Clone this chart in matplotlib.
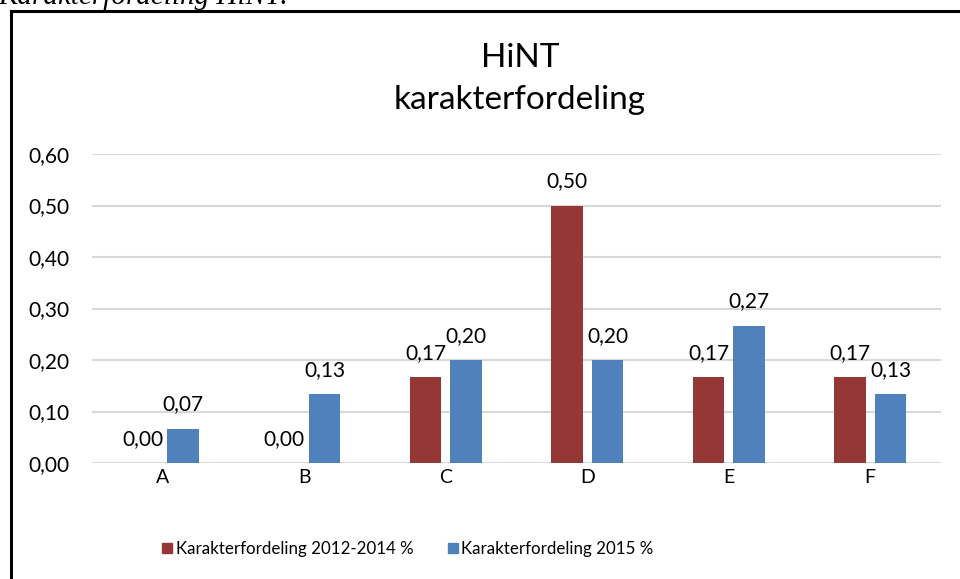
import numpy as np
import matplotlib
matplotlib.use("Agg")
import matplotlib.pyplot as plt
from matplotlib.lines import Line2D

# Data
categories = ["A", "B", "C", "D", "E", "F"]
series_names = ["Karakterfordeling 2012-2014 %", "Karakterfordeling 2015 %"]
vals_2012_2014 = [0.0, 0.0, 0.1667, 0.5, 0.1667, 0.1667]
vals_2015 = [0.0667, 0.1333, 0.2, 0.2, 0.2667, 0.1333]
y_ticks = [0.0, 0.1, 0.2, 0.3, 0.4, 0.5, 0.6]

RED = "#953735"
BLUE = "#4F81BD"
GRID = "#D9D9D9"

plt.rcParams["font.family"] = ["Lato", "DejaVu Sans"]

W, H = 960, 579
fig = plt.figure(figsize=(W / 100, H / 100), dpi=100)
fig.patch.set_facecolor("white")

# Axes placed in pixel coordinates
left, right, top, bottom = 92, 941, 154, 463
ax = fig.add_axes([left / W, 1 - bottom / H, (right - left) / W, (bottom - top) / H])

x = np.arange(len(categories))
bw = 0.223
off = 0.143
b1 = ax.bar(x - off, vals_2012_2014, bw, color=RED, zorder=3)
b2 = ax.bar(x + off, vals_2015, bw, color=BLUE, zorder=3)

for bars, vals in ((b1, vals_2012_2014), (b2, vals_2015)):
    for rect, v in zip(bars, vals):
        ax.annotate(f"{v:.2f}".replace(".", ","),
                    (rect.get_x() + rect.get_width() / 2, v),
                    xytext=(0, 17.5), textcoords="offset points",
                    ha="center", va="center", fontsize=15, color="#000000")

ax.set_xlim(-0.5, len(categories) - 0.5)
ax.set_ylim(0, 0.6)
ax.set_yticks(y_ticks)
ax.set_yticklabels([f"{t:.2f}".replace(".", ",") for t in y_ticks], fontsize=15)
ax.set_xticks(x)
ax.set_xticklabels(categories, fontsize=14)
ax.tick_params(axis="both", length=0)
ax.tick_params(axis="y", pad=16.5)
ax.tick_params(axis="x", pad=4)
ax.yaxis.grid(True, color=GRID, linewidth=1.5)
ax.set_axisbelow(True)
for sp in ax.spines.values():
    sp.set_visible(False)

# Title
fig.text(520 / W, 1 - 58 / H, "HiNT", ha="center", va="center", fontsize=24)
fig.text(520 / W, 1 - 100 / H, "karakterfordeling", ha="center", va="center", fontsize=24)

# Legend
handles = [Line2D([], [], marker="s", linestyle="none", markersize=7.5,
                  markerfacecolor=c, markeredgecolor=c) for c in (RED, BLUE)]
fig.legend(handles, series_names, loc="center", bbox_to_anchor=(407 / W, 1 - 549 / H),
           ncol=2, frameon=False, fontsize=12.2, handletextpad=0.1,
           columnspacing=1.9, handlelength=0.8)

# Chart border (top and left visible)
fig.add_artist(Line2D([10.5 / W, 10.5 / W], [0, 1 - 10.5 / H], color="black", linewidth=2.2))
fig.add_artist(Line2D([10.5 / W, 1], [1 - 10.5 / H, 1 - 10.5 / H], color="black", linewidth=2.2))

# Cropped caption above chart
fig.text(-0.002, 1 - 4 / H, "Karakterfordeling HiNT:", ha="left", va="baseline",
         fontsize=21, style="italic", family="Liberation Serif")

fig.savefig("out.png", dpi=100)
